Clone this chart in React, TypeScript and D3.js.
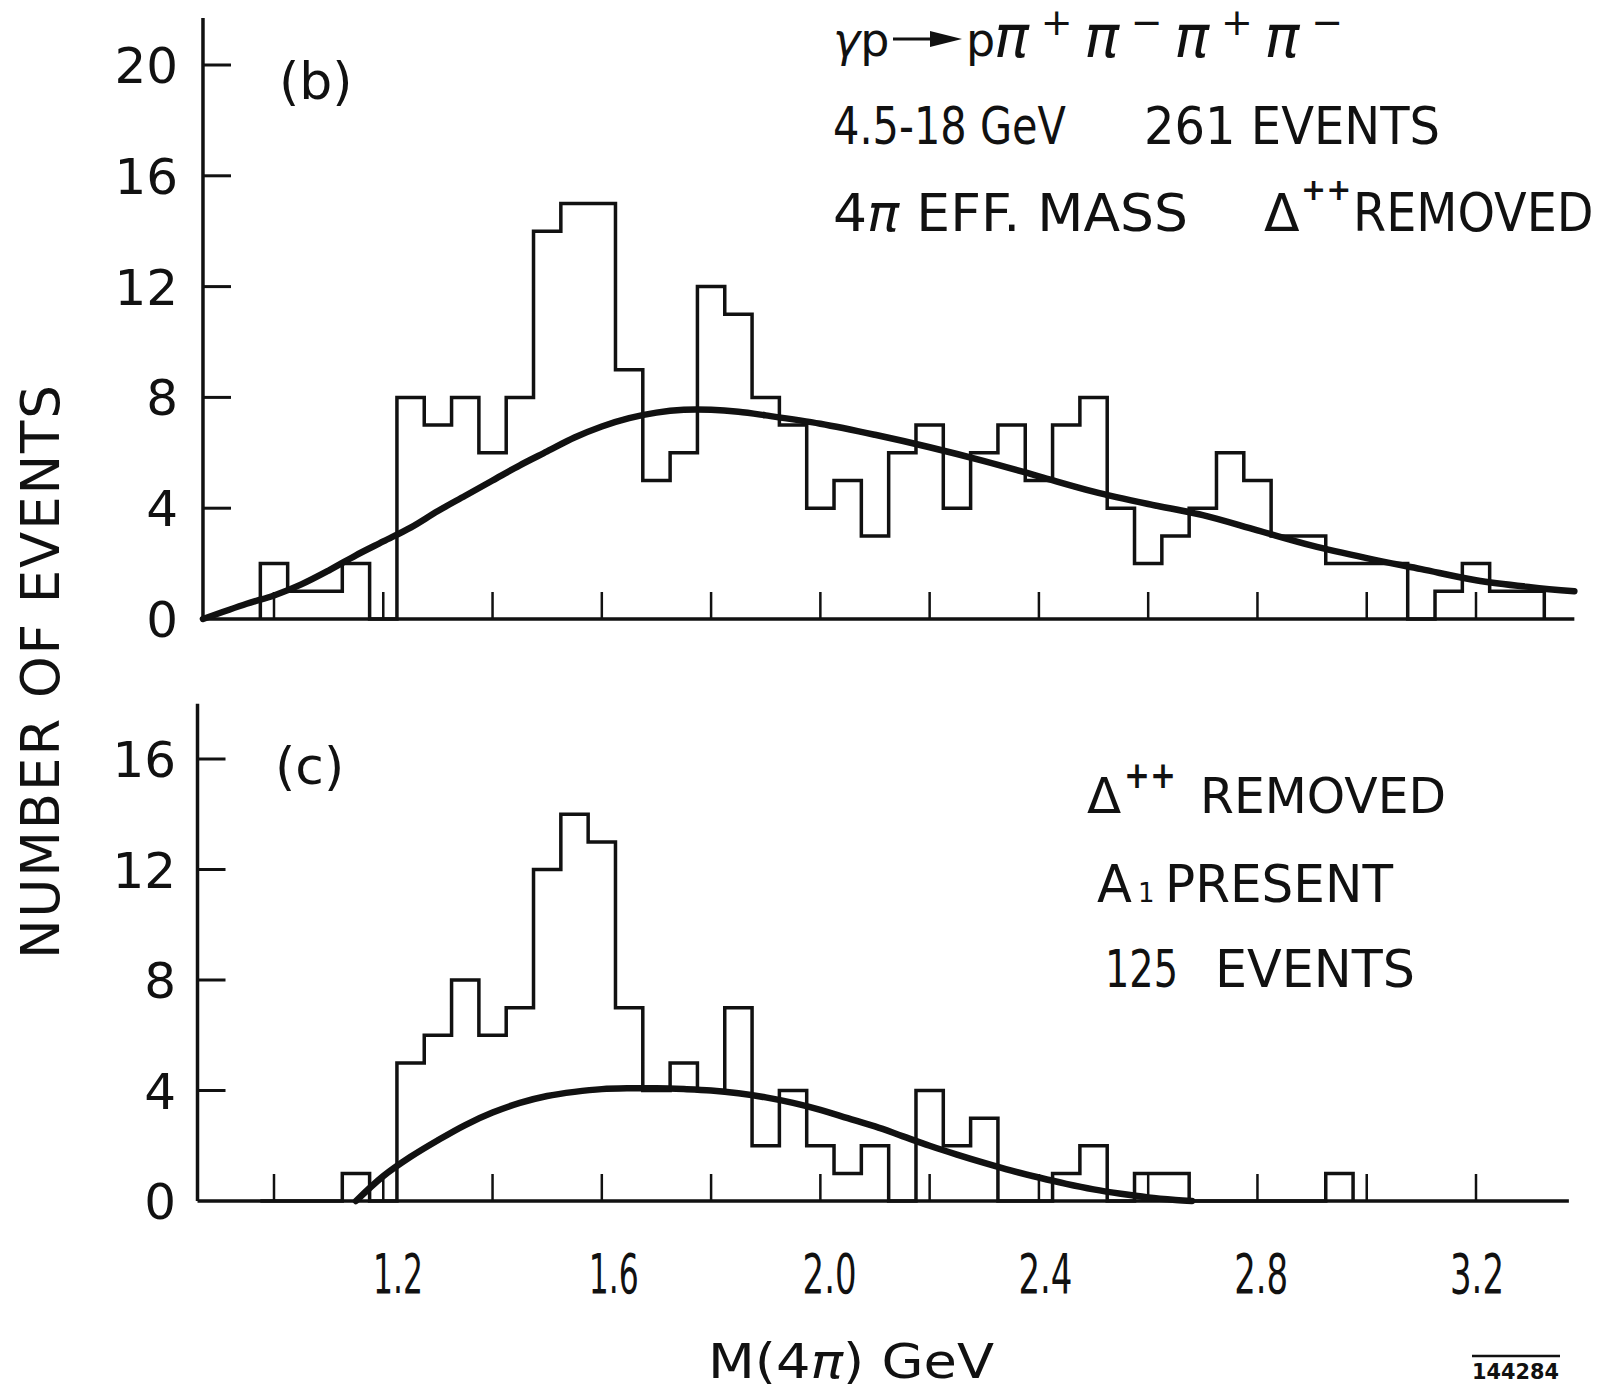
import React from "react";
import * as d3 from "d3";

// ---------- data ----------
const binStart = 0.975;
const binWidth = 0.05;
const countsB = [2,1,1,2,0, 8,7,8,6,8, 14,15,15,9,5, 6,12,11,8,7, 4,5,3,6,7, 4,6,7,5,7, 8,4,2,3,4, 6,5,3,3,2, 2,2,0,1,2, 1,1];
const countsC = [0,0,0,1,0, 5,6,8,6,7, 12,14,13,7,4, 5,4,7,2,4, 2,1,2,0,4, 2,3,0,0,1, 2,0,1,1,0, 0,0,0,0,1];

const fitBMass = [0.87,0.95,1.0,1.05,1.1,1.15,1.2,1.25,1.3,1.35,1.4,1.45,1.5,1.55,1.6,1.65,1.7,1.75,1.8,1.85,1.9,2.0,2.1,2.2,2.3,2.4,2.5,2.6,2.7,2.8,2.9,3.0,3.1,3.2,3.3,3.38];
const fitBCount = [0,0.55,0.85,1.25,1.75,2.3,2.8,3.3,3.9,4.45,5.0,5.55,6.05,6.55,6.95,7.25,7.45,7.55,7.55,7.48,7.35,7.05,6.65,6.2,5.7,5.15,4.6,4.15,3.75,3.2,2.65,2.2,1.8,1.4,1.15,1.0];
const fitCMass = [1.15,1.2,1.25,1.3,1.35,1.4,1.45,1.5,1.55,1.6,1.65,1.7,1.75,1.8,1.85,1.9,1.95,2.0,2.05,2.1,2.15,2.2,2.25,2.3,2.35,2.4,2.45,2.5,2.55,2.6,2.65,2.68];
const fitCCount = [0,0.9,1.6,2.2,2.75,3.2,3.55,3.8,3.95,4.05,4.08,4.08,4.05,4.0,3.9,3.75,3.55,3.3,3.0,2.7,2.35,2.0,1.68,1.38,1.1,0.85,0.62,0.42,0.26,0.13,0.04,0];

const yTicksB = [0, 4, 8, 12, 16, 20];
const yTicksC = [0, 4, 8, 12, 16];
const xTicks = [1.0, 1.2, 1.4, 1.6, 1.8, 2.0, 2.2, 2.4, 2.6, 2.8, 3.0, 3.2];
const xTickLabels = ["1.2", "1.6", "2.0", "2.4", "2.8", "3.2"];
const xAxisB = [0.87, 3.38];
const xAxisC = [0.86, 3.37];
const yAxisTopB = 21.7;
const yAxisTopC = 18.0;

// ---------- scales ----------
const x = d3.scaleLinear().domain([1.0, 3.2]).range([274, 1476]);
const xLabel = d3.scaleLinear().domain([1.2, 3.2]).range([398, 1477]);
const yB = d3.scaleLinear().domain([0, 20]).range([619, 65]);
const yC = d3.scaleLinear().domain([0, 16]).range([1201, 759]);

const FONT = "'DejaVu Sans', sans-serif";
const INK = "#111";

function histPath(counts: number[], y: d3.ScaleLinear<number, number>) {
  const pts: [number, number][] = [[binStart, 0]];
  counts.forEach((c, i) => {
    const a = binStart + i * binWidth;
    pts.push([a, c], [a + binWidth, c]);
  });
  pts.push([binStart + counts.length * binWidth, 0]);
  return d3.line<[number, number]>().x(d => x(d[0])).y(d => y(d[1]))(pts) || "";
}

function fitPath(ms: number[], ns: number[], y: d3.ScaleLinear<number, number>) {
  const pts = ms.map((m, i) => [m, ns[i]] as [number, number]);
  return d3.line<[number, number]>().x(d => x(d[0])).y(d => y(d[1])).curve(d3.curveCatmullRom.alpha(0.5))(pts) || "";
}

function Panel({ counts, ms, ns, y, ticks, axisX, axisTop, labelX }: any) {
  const x0 = x(axisX[0]);
  const x1 = x(axisX[1]);
  const base = y(0);
  return (
    <g>
      <line x1={x0} y1={y(axisTop)} x2={x0} y2={base} stroke={INK} strokeWidth={3.5} />
      <line x1={x0} y1={base} x2={x1} y2={base} stroke={INK} strokeWidth={3.5} />
      {ticks.map((t: number) => (
        <g key={t}>
          {t > 0 && <line x1={x0} x2={x0 + 28} y1={y(t)} y2={y(t)} stroke={INK} strokeWidth={3} />}
          <text x={labelX} y={y(t)} dy="0.36em" textAnchor="end" fontSize={50} fontFamily={FONT} fill={INK}>{t}</text>
        </g>
      ))}
      {xTicks.map(t => (
        <line key={t} x1={x(t)} x2={x(t)} y1={base} y2={base - 27} stroke={INK} strokeWidth={2.5} />
      ))}
      <path d={histPath(counts, y)} fill="none" stroke={INK} strokeWidth={3.5} strokeLinejoin="miter" />
      <path d={fitPath(ms, ns, y)} fill="none" stroke={INK} strokeWidth={6.5} strokeLinecap="round" />
    </g>
  );
}

export default function App() {
  return (
    <svg width={1608} height={1392} style={{ position: "absolute", left: 0, top: 0, background: "#fff" }} fontFamily={FONT}>
      <rect width={1608} height={1392} fill="#fff" />
      <Panel counts={countsB} ms={fitBMass} ns={fitBCount} y={yB} ticks={yTicksB} axisX={xAxisB} axisTop={yAxisTopB} labelX={178} />
      <Panel counts={countsC} ms={fitCMass} ns={fitCCount} y={yC} ticks={yTicksC} axisX={xAxisC} axisTop={yAxisTopC} labelX={176} />

      {/* x tick labels */}
      {xTickLabels.map(l => (
        <text key={l} x={xLabel(+l) - (l.startsWith("1") ? 25 : 27)} y={1293} fontSize={56} fill={INK}
          textLength={l.startsWith("1") ? 50 : 54} lengthAdjust="spacingAndGlyphs">{l}</text>
      ))}
      <text x={708} y={1378} fontSize={48} fill={INK} textLength={286} lengthAdjust="spacingAndGlyphs">
        M(4<tspan fontStyle="italic">π</tspan>) GeV
      </text>
      <line x1={1472} x2={1560} y1={1356} y2={1356} stroke={INK} strokeWidth={2.5} />
      <text x={1472} y={1379} fontSize={21} fontWeight="bold" fill={INK} textLength={87} lengthAdjust="spacingAndGlyphs">144284</text>

      {/* y axis title */}
      <text transform="translate(59,672) rotate(-90)" textAnchor="middle" fontSize={53} fill={INK}
        textLength={574} lengthAdjust="spacing">NUMBER  OF  EVENTS</text>

      {/* panel labels */}
      <text x={279} y={99} fontSize={52} fill={INK}>(b)</text>
      <text x={275} y={784} fontSize={52} fill={INK}>(c)</text>

      {/* top annotations */}
      <text x={833} y={56} fontSize={46} fill={INK}><tspan fontStyle="italic">γ</tspan>p</text>
      <line x1={893} x2={935} y1={39} y2={39} stroke={INK} strokeWidth={3} />
      <path d="M930,31 L962,39 L930,47 Z" fill={INK} />
      <text x={966} y={56} fontSize={46} fill={INK}>p</text>
      <text x={994} y={57} fontSize={58} fill={INK} textLength={349} lengthAdjust="spacing">
        <tspan fontStyle="italic">π</tspan><tspan fontSize={38} dy={-22}>+</tspan>
        <tspan dy={22} fontStyle="italic">π</tspan><tspan fontSize={38} dy={-22}>−</tspan>
        <tspan dy={22} fontStyle="italic">π</tspan><tspan fontSize={38} dy={-22}>+</tspan>
        <tspan dy={22} fontStyle="italic">π</tspan><tspan fontSize={38} dy={-22}>−</tspan>
      </text>
      <text x={833} y={144} fontSize={52} fill={INK} textLength={233} lengthAdjust="spacingAndGlyphs">4.5-18 GeV</text>
      <text x={1144} y={144} fontSize={52} fill={INK} textLength={296} lengthAdjust="spacingAndGlyphs">261 EVENTS</text>
      <text x={833} y={231} fontSize={52} fill={INK} textLength={355} lengthAdjust="spacingAndGlyphs">
        4<tspan fontStyle="italic">π</tspan> EFF. MASS
      </text>
      <text x={1264} y={231} fontSize={52} fill={INK}>Δ</text>
      <text x={1301} y={200} fontSize={30} fontWeight="bold" fill={INK}>++</text>
      <text transform="translate(1353,231) scale(0.9,1)" fontSize={53} fill={INK}>REMOVED</text>

      {/* bottom annotations */}
      <text x={1087} y={813} fontSize={50} fill={INK}>Δ</text>
      <text x={1124} y={788} fontSize={38} fontWeight="bold" fill={INK} textLength={52} lengthAdjust="spacingAndGlyphs">++</text>
      <text x={1200} y={813} fontSize={50} fill={INK} textLength={246} lengthAdjust="spacingAndGlyphs">REMOVED</text>
      <text x={1097} y={902} fontSize={51} fill={INK}>A<tspan fontSize={26} dx={6}>1</tspan></text>
      <text x={1165} y={902} fontSize={51} fill={INK} textLength={228} lengthAdjust="spacingAndGlyphs">PRESENT</text>
      <text x={1105} y={987} fontSize={51} fill={INK} textLength={73} lengthAdjust="spacingAndGlyphs">125</text>
      <text x={1215} y={987} fontSize={51} fill={INK} textLength={200} lengthAdjust="spacingAndGlyphs">EVENTS</text>
    </svg>
  );
}
